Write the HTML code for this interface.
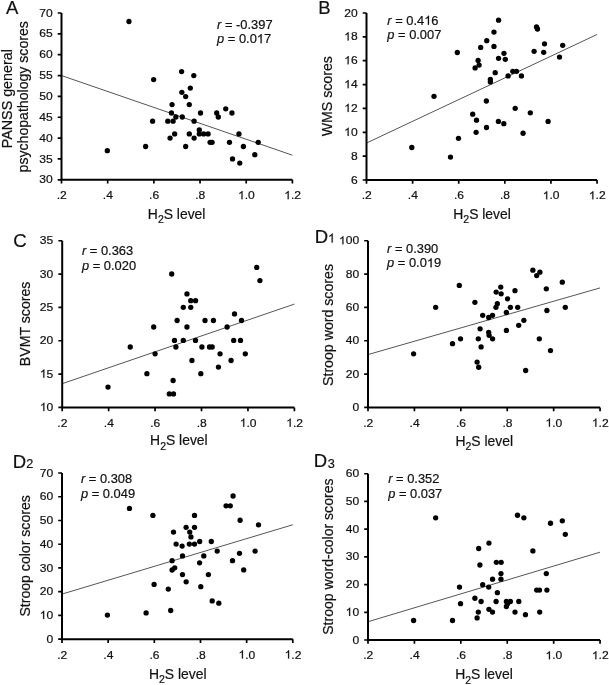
<!DOCTYPE html>
<html><head><meta charset="utf-8"><title>H2S correlations</title>
<style>
html,body{margin:0;padding:0;background:#fff;}
svg{display:block;will-change:transform;filter:blur(0.3px);}
text{font-family:"Liberation Sans", sans-serif;fill:#111;stroke:#111;stroke-width:0.2px;}
</style></head><body>
<svg width="609" height="685" viewBox="0 0 609 685">
<rect width="609" height="685" fill="#fff"/>
<g id="panel-A">
<line x1="61.5" y1="75.55" x2="292.4" y2="155.2" stroke="#2a2a2a" stroke-width="0.8"/>
<path d="M61.5 13 V179.8 H292.4" fill="none" stroke="#000" stroke-width="2.0" stroke-linejoin="miter"/>
<path d="M61.5 179.8 v3.8 M107.68 179.8 v3.8 M153.86 179.8 v3.8 M200.04 179.8 v3.8 M246.22 179.8 v3.8 M292.4 179.8 v3.8 M61.5 179.8 h-3.8 M61.5 158.95 h-3.8 M61.5 138.1 h-3.8 M61.5 117.25 h-3.8 M61.5 96.4 h-3.8 M61.5 75.55 h-3.8 M61.5 54.7 h-3.8 M61.5 33.85 h-3.8 M61.5 13 h-3.8" fill="none" stroke="#000" stroke-width="1.7"/>
<g><g transform="translate(61.7 199.15) scale(1.06 1)" font-size="11.4"><text x="-4.75" y="0" xml:space="preserve">.2</text></g><g transform="translate(107.88 199.15) scale(1.06 1)" font-size="11.4"><text x="-4.75" y="0" xml:space="preserve">.4</text></g><g transform="translate(154.06 199.15) scale(1.06 1)" font-size="11.4"><text x="-4.75" y="0" xml:space="preserve">.6</text></g><g transform="translate(200.24 199.15) scale(1.06 1)" font-size="11.4"><text x="-4.75" y="0" xml:space="preserve">.8</text></g><g transform="translate(246.42 199.15) scale(1.06 1)" font-size="11.4"><path transform="translate(-7.92 0) scale(0.00557 -0.00557)" d="M763 0H583V1147Q518 1085 412.5 1023Q307 961 223 930V1104Q374 1175 487 1276Q600 1377 647 1472H763Z" fill="#111" stroke="#111" stroke-width="0.2" vector-effect="non-scaling-stroke"/><text x="-1.58" y="0" xml:space="preserve">.0</text></g><g transform="translate(292.6 199.15) scale(1.06 1)" font-size="11.4"><path transform="translate(-7.92 0) scale(0.00557 -0.00557)" d="M763 0H583V1147Q518 1085 412.5 1023Q307 961 223 930V1104Q374 1175 487 1276Q600 1377 647 1472H763Z" fill="#111" stroke="#111" stroke-width="0.2" vector-effect="non-scaling-stroke"/><text x="-1.58" y="0" xml:space="preserve">.2</text></g></g>
<g><g transform="translate(52.6 183.4) scale(1.06 1)" font-size="11.4"><text x="-12.68" y="0" xml:space="preserve">30</text></g><g transform="translate(52.6 162.55) scale(1.06 1)" font-size="11.4"><text x="-12.68" y="0" xml:space="preserve">35</text></g><g transform="translate(52.6 141.7) scale(1.06 1)" font-size="11.4"><text x="-12.68" y="0" xml:space="preserve">40</text></g><g transform="translate(52.6 120.85) scale(1.06 1)" font-size="11.4"><text x="-12.68" y="0" xml:space="preserve">45</text></g><g transform="translate(52.6 100) scale(1.06 1)" font-size="11.4"><text x="-12.68" y="0" xml:space="preserve">50</text></g><g transform="translate(52.6 79.15) scale(1.06 1)" font-size="11.4"><text x="-12.68" y="0" xml:space="preserve">55</text></g><g transform="translate(52.6 58.3) scale(1.06 1)" font-size="11.4"><text x="-12.68" y="0" xml:space="preserve">60</text></g><g transform="translate(52.6 37.45) scale(1.06 1)" font-size="11.4"><text x="-12.68" y="0" xml:space="preserve">65</text></g><g transform="translate(52.6 16.6) scale(1.06 1)" font-size="11.4"><text x="-12.68" y="0" xml:space="preserve">70</text></g></g>
<text x="176.65" y="218.7" font-size="13.9" text-anchor="middle">H<tspan font-size="10.5" dy="4.4">2</tspan><tspan dy="-4.4">S level</tspan></text>
<text transform="translate(11.9 98.7) rotate(-90)" font-size="14.3" text-anchor="middle">PANSS general</text>
<text transform="translate(28.2 96.8) rotate(-90)" font-size="14.1" text-anchor="middle">psychopathology scores</text>
<text x="5.9" y="14.4" font-size="18.5">A</text>
<g transform="translate(217.1 28.6) scale(1.015 1)" font-size="12.7"><text x="0" y="0" font-style="italic">r</text><text x="4.23" y="0" xml:space="preserve"> = -0.397</text></g>
<g transform="translate(217.1 43.2) scale(1.015 1)" font-size="12.7"><text x="0" y="0" font-style="italic">p</text><text x="7.06" y="0" xml:space="preserve"> = 0.0</text><path transform="translate(39.19 0) scale(0.00620 -0.00620)" d="M763 0H583V1147Q518 1085 412.5 1023Q307 961 223 930V1104Q374 1175 487 1276Q600 1377 647 1472H763Z" fill="#111" stroke="#111" stroke-width="0.2" vector-effect="non-scaling-stroke"/><text x="46.25" y="0" xml:space="preserve">7</text></g>
<g fill="#000"><circle cx="185.67" cy="96.6" r="2.65"/><circle cx="172.05" cy="104.6" r="2.65"/><circle cx="189.28" cy="104.6" r="2.65"/><circle cx="225.74" cy="108.8" r="2.65"/><circle cx="171.45" cy="113" r="2.65"/><circle cx="200.5" cy="113" r="2.65"/><circle cx="216.7" cy="113" r="2.65"/><circle cx="231.95" cy="113" r="2.65"/><circle cx="175.86" cy="117" r="2.65"/><circle cx="182.27" cy="117" r="2.65"/><circle cx="218.3" cy="117" r="2.65"/><circle cx="152.6" cy="121.2" r="2.65"/><circle cx="167.8" cy="121.2" r="2.65"/><circle cx="173.05" cy="121.2" r="2.65"/><circle cx="194.1" cy="121.2" r="2.65"/><circle cx="199.3" cy="130" r="2.65"/><circle cx="174.65" cy="133.9" r="2.65"/><circle cx="189.3" cy="133.9" r="2.65"/><circle cx="199.3" cy="133.9" r="2.65"/><circle cx="203.7" cy="133.9" r="2.65"/><circle cx="208.1" cy="133.9" r="2.65"/><circle cx="238.96" cy="133.9" r="2.65"/><circle cx="170.05" cy="138.07" r="2.65"/><circle cx="194.1" cy="138.07" r="2.65"/><circle cx="210.1" cy="142.3" r="2.65"/><circle cx="212.1" cy="142.3" r="2.65"/><circle cx="229.5" cy="142.3" r="2.65"/><circle cx="258.2" cy="142.3" r="2.65"/><circle cx="145.6" cy="146.5" r="2.65"/><circle cx="185.67" cy="146.5" r="2.65"/><circle cx="243.4" cy="146.5" r="2.65"/><circle cx="254.8" cy="154.7" r="2.65"/><circle cx="232.5" cy="158.9" r="2.65"/><circle cx="239.76" cy="163.1" r="2.65"/><circle cx="128.95" cy="21.5" r="2.65"/><circle cx="153.65" cy="79.6" r="2.65"/><circle cx="181.6" cy="71.6" r="2.65"/><circle cx="193.8" cy="75.6" r="2.65"/><circle cx="190.3" cy="88.1" r="2.65"/><circle cx="181.85" cy="92.3" r="2.65"/><circle cx="107.3" cy="150.7" r="2.65"/></g>
</g>
<g id="panel-B">
<line x1="366.5" y1="143.02" x2="597.05" y2="34.47" stroke="#2a2a2a" stroke-width="0.8"/>
<path d="M366.5 13 V180 H597.05" fill="none" stroke="#000" stroke-width="2.0" stroke-linejoin="miter"/>
<path d="M366.5 180 v3.8 M412.61 180 v3.8 M458.72 180 v3.8 M504.83 180 v3.8 M550.94 180 v3.8 M597.05 180 v3.8 M366.5 180 h-3.8 M366.5 156.14 h-3.8 M366.5 132.29 h-3.8 M366.5 108.43 h-3.8 M366.5 84.57 h-3.8 M366.5 60.71 h-3.8 M366.5 36.86 h-3.8 M366.5 13 h-3.8" fill="none" stroke="#000" stroke-width="1.7"/>
<g><g transform="translate(366.7 199.35) scale(1.06 1)" font-size="11.4"><text x="-4.75" y="0" xml:space="preserve">.2</text></g><g transform="translate(412.81 199.35) scale(1.06 1)" font-size="11.4"><text x="-4.75" y="0" xml:space="preserve">.4</text></g><g transform="translate(458.92 199.35) scale(1.06 1)" font-size="11.4"><text x="-4.75" y="0" xml:space="preserve">.6</text></g><g transform="translate(505.03 199.35) scale(1.06 1)" font-size="11.4"><text x="-4.75" y="0" xml:space="preserve">.8</text></g><g transform="translate(551.14 199.35) scale(1.06 1)" font-size="11.4"><path transform="translate(-7.92 0) scale(0.00557 -0.00557)" d="M763 0H583V1147Q518 1085 412.5 1023Q307 961 223 930V1104Q374 1175 487 1276Q600 1377 647 1472H763Z" fill="#111" stroke="#111" stroke-width="0.2" vector-effect="non-scaling-stroke"/><text x="-1.58" y="0" xml:space="preserve">.0</text></g><g transform="translate(597.25 199.35) scale(1.06 1)" font-size="11.4"><path transform="translate(-7.92 0) scale(0.00557 -0.00557)" d="M763 0H583V1147Q518 1085 412.5 1023Q307 961 223 930V1104Q374 1175 487 1276Q600 1377 647 1472H763Z" fill="#111" stroke="#111" stroke-width="0.2" vector-effect="non-scaling-stroke"/><text x="-1.58" y="0" xml:space="preserve">.2</text></g></g>
<g><g transform="translate(357.6 183.6) scale(1.06 1)" font-size="11.4"><text x="-6.34" y="0" xml:space="preserve">6</text></g><g transform="translate(357.6 159.74) scale(1.06 1)" font-size="11.4"><text x="-6.34" y="0" xml:space="preserve">8</text></g><g transform="translate(357.6 135.89) scale(1.06 1)" font-size="11.4"><path transform="translate(-12.68 0) scale(0.00557 -0.00557)" d="M763 0H583V1147Q518 1085 412.5 1023Q307 961 223 930V1104Q374 1175 487 1276Q600 1377 647 1472H763Z" fill="#111" stroke="#111" stroke-width="0.2" vector-effect="non-scaling-stroke"/><text x="-6.34" y="0" xml:space="preserve">0</text></g><g transform="translate(357.6 112.03) scale(1.06 1)" font-size="11.4"><path transform="translate(-12.68 0) scale(0.00557 -0.00557)" d="M763 0H583V1147Q518 1085 412.5 1023Q307 961 223 930V1104Q374 1175 487 1276Q600 1377 647 1472H763Z" fill="#111" stroke="#111" stroke-width="0.2" vector-effect="non-scaling-stroke"/><text x="-6.34" y="0" xml:space="preserve">2</text></g><g transform="translate(357.6 88.17) scale(1.06 1)" font-size="11.4"><path transform="translate(-12.68 0) scale(0.00557 -0.00557)" d="M763 0H583V1147Q518 1085 412.5 1023Q307 961 223 930V1104Q374 1175 487 1276Q600 1377 647 1472H763Z" fill="#111" stroke="#111" stroke-width="0.2" vector-effect="non-scaling-stroke"/><text x="-6.34" y="0" xml:space="preserve">4</text></g><g transform="translate(357.6 64.31) scale(1.06 1)" font-size="11.4"><path transform="translate(-12.68 0) scale(0.00557 -0.00557)" d="M763 0H583V1147Q518 1085 412.5 1023Q307 961 223 930V1104Q374 1175 487 1276Q600 1377 647 1472H763Z" fill="#111" stroke="#111" stroke-width="0.2" vector-effect="non-scaling-stroke"/><text x="-6.34" y="0" xml:space="preserve">6</text></g><g transform="translate(357.6 40.46) scale(1.06 1)" font-size="11.4"><path transform="translate(-12.68 0) scale(0.00557 -0.00557)" d="M763 0H583V1147Q518 1085 412.5 1023Q307 961 223 930V1104Q374 1175 487 1276Q600 1377 647 1472H763Z" fill="#111" stroke="#111" stroke-width="0.2" vector-effect="non-scaling-stroke"/><text x="-6.34" y="0" xml:space="preserve">8</text></g><g transform="translate(357.6 16.6) scale(1.06 1)" font-size="11.4"><text x="-12.68" y="0" xml:space="preserve">20</text></g></g>
<text x="482.07" y="218.9" font-size="13.9" text-anchor="middle">H<tspan font-size="10.5" dy="4.4">2</tspan><tspan dy="-4.4">S level</tspan></text>
<text transform="translate(331.8 96.25) rotate(-90)" font-size="14.17" text-anchor="middle">WMS scores</text>
<text x="318.3" y="14.3" font-size="18.5">B</text>
<g transform="translate(387.3 24.8) scale(1.015 1)" font-size="12.7"><text x="0" y="0" font-style="italic">r</text><text x="4.23" y="0" xml:space="preserve"> = 0.4</text><path transform="translate(36.36 0) scale(0.00620 -0.00620)" d="M763 0H583V1147Q518 1085 412.5 1023Q307 961 223 930V1104Q374 1175 487 1276Q600 1377 647 1472H763Z" fill="#111" stroke="#111" stroke-width="0.2" vector-effect="non-scaling-stroke"/><text x="43.42" y="0" xml:space="preserve">6</text></g>
<g transform="translate(387.3 39.4) scale(1.015 1)" font-size="12.7"><text x="0" y="0" font-style="italic">p</text><text x="7.06" y="0" xml:space="preserve"> = 0.007</text></g>
<g fill="#000"><circle cx="498.57" cy="20.22" r="2.65"/><circle cx="493.96" cy="32.04" r="2.65"/><circle cx="486.75" cy="40.66" r="2.65"/><circle cx="480.7" cy="47.47" r="2.65"/><circle cx="493.96" cy="46.47" r="2.65"/><circle cx="457.3" cy="52.5" r="2.65"/><circle cx="503.97" cy="53.3" r="2.65"/><circle cx="498.57" cy="58.3" r="2.65"/><circle cx="505.3" cy="59.3" r="2.65"/><circle cx="478.1" cy="60.5" r="2.65"/><circle cx="479.1" cy="65.1" r="2.65"/><circle cx="475.1" cy="67.9" r="2.65"/><circle cx="495.2" cy="72.7" r="2.65"/><circle cx="512.8" cy="71.3" r="2.65"/><circle cx="516.5" cy="71.3" r="2.65"/><circle cx="508.1" cy="75.9" r="2.65"/><circle cx="521.45" cy="75.9" r="2.65"/><circle cx="490.35" cy="79.5" r="2.65"/><circle cx="490.35" cy="81.9" r="2.65"/><circle cx="434" cy="96.3" r="2.65"/><circle cx="536.5" cy="27" r="2.65"/><circle cx="537.5" cy="29" r="2.65"/><circle cx="544.5" cy="43.86" r="2.65"/><circle cx="562.7" cy="45.3" r="2.65"/><circle cx="534.1" cy="51.3" r="2.65"/><circle cx="543.7" cy="52.3" r="2.65"/><circle cx="559.5" cy="57.1" r="2.65"/><circle cx="486.35" cy="101" r="2.65"/><circle cx="515.2" cy="108.3" r="2.65"/><circle cx="472.7" cy="114.2" r="2.65"/><circle cx="476.5" cy="120.2" r="2.65"/><circle cx="498.4" cy="121.4" r="2.65"/><circle cx="503.8" cy="123.65" r="2.65"/><circle cx="486.5" cy="127.5" r="2.65"/><circle cx="476.1" cy="132.3" r="2.65"/><circle cx="458.5" cy="138.3" r="2.65"/><circle cx="411.8" cy="147.5" r="2.65"/><circle cx="450.5" cy="157.1" r="2.65"/><circle cx="530.3" cy="112.8" r="2.65"/><circle cx="548.1" cy="121.45" r="2.65"/><circle cx="523.06" cy="133.27" r="2.65"/></g>
</g>
<g id="panel-C">
<line x1="62.2" y1="383.67" x2="294.4" y2="304.08" stroke="#2a2a2a" stroke-width="0.8"/>
<path d="M62.2 240.75 V407.4 H294.4" fill="none" stroke="#000" stroke-width="2.0" stroke-linejoin="miter"/>
<path d="M62.2 407.4 v3.8 M108.64 407.4 v3.8 M155.08 407.4 v3.8 M201.52 407.4 v3.8 M247.96 407.4 v3.8 M294.4 407.4 v3.8 M62.2 407.4 h-3.8 M62.2 374.07 h-3.8 M62.2 340.74 h-3.8 M62.2 307.41 h-3.8 M62.2 274.08 h-3.8 M62.2 240.75 h-3.8" fill="none" stroke="#000" stroke-width="1.7"/>
<g><g transform="translate(62.4 426.75) scale(1.06 1)" font-size="11.4"><text x="-4.75" y="0" xml:space="preserve">.2</text></g><g transform="translate(108.84 426.75) scale(1.06 1)" font-size="11.4"><text x="-4.75" y="0" xml:space="preserve">.4</text></g><g transform="translate(155.28 426.75) scale(1.06 1)" font-size="11.4"><text x="-4.75" y="0" xml:space="preserve">.6</text></g><g transform="translate(201.72 426.75) scale(1.06 1)" font-size="11.4"><text x="-4.75" y="0" xml:space="preserve">.8</text></g><g transform="translate(248.16 426.75) scale(1.06 1)" font-size="11.4"><path transform="translate(-7.92 0) scale(0.00557 -0.00557)" d="M763 0H583V1147Q518 1085 412.5 1023Q307 961 223 930V1104Q374 1175 487 1276Q600 1377 647 1472H763Z" fill="#111" stroke="#111" stroke-width="0.2" vector-effect="non-scaling-stroke"/><text x="-1.58" y="0" xml:space="preserve">.0</text></g><g transform="translate(294.6 426.75) scale(1.06 1)" font-size="11.4"><path transform="translate(-7.92 0) scale(0.00557 -0.00557)" d="M763 0H583V1147Q518 1085 412.5 1023Q307 961 223 930V1104Q374 1175 487 1276Q600 1377 647 1472H763Z" fill="#111" stroke="#111" stroke-width="0.2" vector-effect="non-scaling-stroke"/><text x="-1.58" y="0" xml:space="preserve">.2</text></g></g>
<g><g transform="translate(53.3 411) scale(1.06 1)" font-size="11.4"><path transform="translate(-12.68 0) scale(0.00557 -0.00557)" d="M763 0H583V1147Q518 1085 412.5 1023Q307 961 223 930V1104Q374 1175 487 1276Q600 1377 647 1472H763Z" fill="#111" stroke="#111" stroke-width="0.2" vector-effect="non-scaling-stroke"/><text x="-6.34" y="0" xml:space="preserve">0</text></g><g transform="translate(53.3 377.67) scale(1.06 1)" font-size="11.4"><path transform="translate(-12.68 0) scale(0.00557 -0.00557)" d="M763 0H583V1147Q518 1085 412.5 1023Q307 961 223 930V1104Q374 1175 487 1276Q600 1377 647 1472H763Z" fill="#111" stroke="#111" stroke-width="0.2" vector-effect="non-scaling-stroke"/><text x="-6.34" y="0" xml:space="preserve">5</text></g><g transform="translate(53.3 344.34) scale(1.06 1)" font-size="11.4"><text x="-12.68" y="0" xml:space="preserve">20</text></g><g transform="translate(53.3 311.01) scale(1.06 1)" font-size="11.4"><text x="-12.68" y="0" xml:space="preserve">25</text></g><g transform="translate(53.3 277.68) scale(1.06 1)" font-size="11.4"><text x="-12.68" y="0" xml:space="preserve">30</text></g><g transform="translate(53.3 244.35) scale(1.06 1)" font-size="11.4"><text x="-12.68" y="0" xml:space="preserve">35</text></g></g>
<text x="178.9" y="445.45" font-size="13.9" text-anchor="middle">H<tspan font-size="10.5" dy="4.4">2</tspan><tspan dy="-4.4">S level</tspan></text>
<text transform="translate(29.75 323.9) rotate(-90)" font-size="14.16" text-anchor="middle">BVMT scores</text>
<text x="13.2" y="247" font-size="18.5">C</text>
<g transform="translate(82 255.1) scale(1.015 1)" font-size="12.7"><text x="0" y="0" font-style="italic">r</text><text x="4.23" y="0" xml:space="preserve"> = 0.363</text></g>
<g transform="translate(82 269.7) scale(1.015 1)" font-size="12.7"><text x="0" y="0" font-style="italic">p</text><text x="7.06" y="0" xml:space="preserve"> = 0.020</text></g>
<g fill="#000"><circle cx="171.7" cy="274" r="2.65"/><circle cx="186.95" cy="293.9" r="2.65"/><circle cx="190.75" cy="300.7" r="2.65"/><circle cx="195.56" cy="300.7" r="2.65"/><circle cx="183.3" cy="307.3" r="2.65"/><circle cx="190.75" cy="307.3" r="2.65"/><circle cx="177.1" cy="320.5" r="2.65"/><circle cx="205" cy="320.5" r="2.65"/><circle cx="213.4" cy="320.5" r="2.65"/><circle cx="153.7" cy="327" r="2.65"/><circle cx="186.95" cy="327" r="2.65"/><circle cx="174.5" cy="340.4" r="2.65"/><circle cx="183.3" cy="340.4" r="2.65"/><circle cx="195.5" cy="340.4" r="2.65"/><circle cx="130.26" cy="347" r="2.65"/><circle cx="175.9" cy="347" r="2.65"/><circle cx="201.9" cy="347" r="2.65"/><circle cx="209.5" cy="347" r="2.65"/><circle cx="212.2" cy="347" r="2.65"/><circle cx="155.1" cy="353.85" r="2.65"/><circle cx="191.95" cy="360.5" r="2.65"/><circle cx="218.45" cy="367.07" r="2.65"/><circle cx="146.9" cy="373.7" r="2.65"/><circle cx="200.8" cy="373.7" r="2.65"/><circle cx="173.1" cy="380.5" r="2.65"/><circle cx="108" cy="387.1" r="2.65"/><circle cx="169.3" cy="393.9" r="2.65"/><circle cx="173.5" cy="393.9" r="2.65"/><circle cx="256.7" cy="267.4" r="2.65"/><circle cx="259.9" cy="280.6" r="2.65"/><circle cx="234.5" cy="313.9" r="2.65"/><circle cx="241.5" cy="320.5" r="2.65"/><circle cx="227.1" cy="327" r="2.65"/><circle cx="233.7" cy="340.4" r="2.65"/><circle cx="240.5" cy="340.4" r="2.65"/><circle cx="220.06" cy="353.85" r="2.65"/><circle cx="245.3" cy="353.85" r="2.65"/><circle cx="231.07" cy="360.5" r="2.65"/></g>
</g>
<g id="panel-D1">
<line x1="368" y1="354.57" x2="600.07" y2="287.91" stroke="#2a2a2a" stroke-width="0.8"/>
<path d="M368 240.75 V407.4 H600.07" fill="none" stroke="#000" stroke-width="2.0" stroke-linejoin="miter"/>
<path d="M368 407.4 v3.8 M414.41 407.4 v3.8 M460.83 407.4 v3.8 M507.24 407.4 v3.8 M553.66 407.4 v3.8 M600.07 407.4 v3.8 M368 407.4 h-3.8 M368 374.07 h-3.8 M368 340.74 h-3.8 M368 307.41 h-3.8 M368 274.08 h-3.8 M368 240.75 h-3.8" fill="none" stroke="#000" stroke-width="1.7"/>
<g><g transform="translate(368.2 426.75) scale(1.06 1)" font-size="11.4"><text x="-4.75" y="0" xml:space="preserve">.2</text></g><g transform="translate(414.61 426.75) scale(1.06 1)" font-size="11.4"><text x="-4.75" y="0" xml:space="preserve">.4</text></g><g transform="translate(461.03 426.75) scale(1.06 1)" font-size="11.4"><text x="-4.75" y="0" xml:space="preserve">.6</text></g><g transform="translate(507.44 426.75) scale(1.06 1)" font-size="11.4"><text x="-4.75" y="0" xml:space="preserve">.8</text></g><g transform="translate(553.86 426.75) scale(1.06 1)" font-size="11.4"><path transform="translate(-7.92 0) scale(0.00557 -0.00557)" d="M763 0H583V1147Q518 1085 412.5 1023Q307 961 223 930V1104Q374 1175 487 1276Q600 1377 647 1472H763Z" fill="#111" stroke="#111" stroke-width="0.2" vector-effect="non-scaling-stroke"/><text x="-1.58" y="0" xml:space="preserve">.0</text></g><g transform="translate(600.27 426.75) scale(1.06 1)" font-size="11.4"><path transform="translate(-7.92 0) scale(0.00557 -0.00557)" d="M763 0H583V1147Q518 1085 412.5 1023Q307 961 223 930V1104Q374 1175 487 1276Q600 1377 647 1472H763Z" fill="#111" stroke="#111" stroke-width="0.2" vector-effect="non-scaling-stroke"/><text x="-1.58" y="0" xml:space="preserve">.2</text></g></g>
<g><g transform="translate(359.1 411) scale(1.06 1)" font-size="11.4"><text x="-6.34" y="0" xml:space="preserve">0</text></g><g transform="translate(359.1 377.67) scale(1.06 1)" font-size="11.4"><text x="-12.68" y="0" xml:space="preserve">20</text></g><g transform="translate(359.1 344.34) scale(1.06 1)" font-size="11.4"><text x="-12.68" y="0" xml:space="preserve">40</text></g><g transform="translate(359.1 311.01) scale(1.06 1)" font-size="11.4"><text x="-12.68" y="0" xml:space="preserve">60</text></g><g transform="translate(359.1 277.68) scale(1.06 1)" font-size="11.4"><text x="-12.68" y="0" xml:space="preserve">80</text></g><g transform="translate(359.1 244.35) scale(1.06 1)" font-size="11.4"><path transform="translate(-19.02 0) scale(0.00557 -0.00557)" d="M763 0H583V1147Q518 1085 412.5 1023Q307 961 223 930V1104Q374 1175 487 1276Q600 1377 647 1472H763Z" fill="#111" stroke="#111" stroke-width="0.2" vector-effect="non-scaling-stroke"/><text x="-12.68" y="0" xml:space="preserve">00</text></g></g>
<text x="484.24" y="445.7" font-size="13.9" text-anchor="middle">H<tspan font-size="10.5" dy="4.4">2</tspan><tspan dy="-4.4">S level</tspan></text>
<text transform="translate(332.7 325) rotate(-90)" font-size="14.16" text-anchor="middle">Stroop word scores</text>
<text x="314.8" y="242.6" font-size="18.5">D</text>
<g transform="translate(328 242.6)" font-size="12.7"><path transform="translate(0 0) scale(0.00620 -0.00620)" d="M763 0H583V1147Q518 1085 412.5 1023Q307 961 223 930V1104Q374 1175 487 1276Q600 1377 647 1472H763Z" fill="#111" stroke="#111" stroke-width="0.2" vector-effect="non-scaling-stroke"/></g>
<g transform="translate(387.1 252.7) scale(1.015 1)" font-size="12.7"><text x="0" y="0" font-style="italic">r</text><text x="4.23" y="0" xml:space="preserve"> = 0.390</text></g>
<g transform="translate(387.1 267.3) scale(1.015 1)" font-size="12.7"><text x="0" y="0" font-style="italic">p</text><text x="7.06" y="0" xml:space="preserve"> = 0.0</text><path transform="translate(39.19 0) scale(0.00620 -0.00620)" d="M763 0H583V1147Q518 1085 412.5 1023Q307 961 223 930V1104Q374 1175 487 1276Q600 1377 647 1472H763Z" fill="#111" stroke="#111" stroke-width="0.2" vector-effect="non-scaling-stroke"/><text x="46.25" y="0" xml:space="preserve">9</text></g>
<g fill="#000"><circle cx="459.3" cy="285.45" r="2.65"/><circle cx="500.76" cy="287.05" r="2.65"/><circle cx="496.15" cy="292.06" r="2.65"/><circle cx="501.16" cy="293.86" r="2.65"/><circle cx="514.98" cy="290.66" r="2.65"/><circle cx="507.57" cy="298.87" r="2.65"/><circle cx="474.9" cy="302.3" r="2.65"/><circle cx="497.36" cy="303.7" r="2.65"/><circle cx="495.95" cy="307.3" r="2.65"/><circle cx="435.66" cy="307.3" r="2.65"/><circle cx="510.4" cy="307.3" r="2.65"/><circle cx="517.7" cy="307.3" r="2.65"/><circle cx="506.37" cy="312.5" r="2.65"/><circle cx="482.7" cy="315.3" r="2.65"/><circle cx="492.5" cy="315.3" r="2.65"/><circle cx="488.7" cy="317.5" r="2.65"/><circle cx="523.86" cy="320.3" r="2.65"/><circle cx="518.7" cy="325.3" r="2.65"/><circle cx="480.1" cy="328.85" r="2.65"/><circle cx="506.4" cy="330.45" r="2.65"/><circle cx="488.7" cy="332.3" r="2.65"/><circle cx="489.1" cy="335.35" r="2.65"/><circle cx="478.3" cy="338.85" r="2.65"/><circle cx="492.55" cy="338.85" r="2.65"/><circle cx="460.5" cy="338.85" r="2.65"/><circle cx="452.5" cy="343.65" r="2.65"/><circle cx="481.1" cy="346.95" r="2.65"/><circle cx="413.6" cy="353.85" r="2.65"/><circle cx="477.1" cy="362.06" r="2.65"/><circle cx="478.7" cy="367.27" r="2.65"/><circle cx="532.87" cy="270.2" r="2.65"/><circle cx="539.9" cy="272.2" r="2.65"/><circle cx="536.7" cy="275.6" r="2.65"/><circle cx="562.3" cy="282.2" r="2.65"/><circle cx="546.3" cy="288.85" r="2.65"/><circle cx="565.3" cy="307.3" r="2.65"/><circle cx="546.9" cy="310.5" r="2.65"/><circle cx="539.3" cy="338.85" r="2.65"/><circle cx="550.5" cy="350.6" r="2.65"/><circle cx="525.66" cy="370.5" r="2.65"/></g>
</g>
<g id="panel-D2">
<line x1="62" y1="594.09" x2="292.8" y2="524.76" stroke="#2a2a2a" stroke-width="0.8"/>
<path d="M62 473 V639.2 H292.8" fill="none" stroke="#000" stroke-width="2.0" stroke-linejoin="miter"/>
<path d="M62 639.2 v3.8 M108.16 639.2 v3.8 M154.32 639.2 v3.8 M200.48 639.2 v3.8 M246.64 639.2 v3.8 M292.8 639.2 v3.8 M62 639.2 h-3.8 M62 615.46 h-3.8 M62 591.71 h-3.8 M62 567.97 h-3.8 M62 544.23 h-3.8 M62 520.49 h-3.8 M62 496.74 h-3.8 M62 473 h-3.8" fill="none" stroke="#000" stroke-width="1.7"/>
<g><g transform="translate(62.2 658.55) scale(1.06 1)" font-size="11.4"><text x="-4.75" y="0" xml:space="preserve">.2</text></g><g transform="translate(108.36 658.55) scale(1.06 1)" font-size="11.4"><text x="-4.75" y="0" xml:space="preserve">.4</text></g><g transform="translate(154.52 658.55) scale(1.06 1)" font-size="11.4"><text x="-4.75" y="0" xml:space="preserve">.6</text></g><g transform="translate(200.68 658.55) scale(1.06 1)" font-size="11.4"><text x="-4.75" y="0" xml:space="preserve">.8</text></g><g transform="translate(246.84 658.55) scale(1.06 1)" font-size="11.4"><path transform="translate(-7.92 0) scale(0.00557 -0.00557)" d="M763 0H583V1147Q518 1085 412.5 1023Q307 961 223 930V1104Q374 1175 487 1276Q600 1377 647 1472H763Z" fill="#111" stroke="#111" stroke-width="0.2" vector-effect="non-scaling-stroke"/><text x="-1.58" y="0" xml:space="preserve">.0</text></g><g transform="translate(293 658.55) scale(1.06 1)" font-size="11.4"><path transform="translate(-7.92 0) scale(0.00557 -0.00557)" d="M763 0H583V1147Q518 1085 412.5 1023Q307 961 223 930V1104Q374 1175 487 1276Q600 1377 647 1472H763Z" fill="#111" stroke="#111" stroke-width="0.2" vector-effect="non-scaling-stroke"/><text x="-1.58" y="0" xml:space="preserve">.2</text></g></g>
<g><g transform="translate(53.1 642.8) scale(1.06 1)" font-size="11.4"><text x="-6.34" y="0" xml:space="preserve">0</text></g><g transform="translate(53.1 619.06) scale(1.06 1)" font-size="11.4"><path transform="translate(-12.68 0) scale(0.00557 -0.00557)" d="M763 0H583V1147Q518 1085 412.5 1023Q307 961 223 930V1104Q374 1175 487 1276Q600 1377 647 1472H763Z" fill="#111" stroke="#111" stroke-width="0.2" vector-effect="non-scaling-stroke"/><text x="-6.34" y="0" xml:space="preserve">0</text></g><g transform="translate(53.1 595.31) scale(1.06 1)" font-size="11.4"><text x="-12.68" y="0" xml:space="preserve">20</text></g><g transform="translate(53.1 571.57) scale(1.06 1)" font-size="11.4"><text x="-12.68" y="0" xml:space="preserve">30</text></g><g transform="translate(53.1 547.83) scale(1.06 1)" font-size="11.4"><text x="-12.68" y="0" xml:space="preserve">40</text></g><g transform="translate(53.1 524.09) scale(1.06 1)" font-size="11.4"><text x="-12.68" y="0" xml:space="preserve">50</text></g><g transform="translate(53.1 500.34) scale(1.06 1)" font-size="11.4"><text x="-12.68" y="0" xml:space="preserve">60</text></g><g transform="translate(53.1 476.6) scale(1.06 1)" font-size="11.4"><text x="-12.68" y="0" xml:space="preserve">70</text></g></g>
<text x="177.7" y="678.8" font-size="13.9" text-anchor="middle">H<tspan font-size="10.5" dy="4.4">2</tspan><tspan dy="-4.4">S level</tspan></text>
<text transform="translate(29.65 555.9) rotate(-90)" font-size="14.1" text-anchor="middle">Stroop color scores</text>
<text x="12.7" y="468.1" font-size="18.5">D</text>
<text x="26.2" y="468.1" font-size="12.7">2</text>
<g transform="translate(81 482.9) scale(1.015 1)" font-size="12.7"><text x="0" y="0" font-style="italic">r</text><text x="4.23" y="0" xml:space="preserve"> = 0.308</text></g>
<g transform="translate(81 497.5) scale(1.015 1)" font-size="12.7"><text x="0" y="0" font-style="italic">p</text><text x="7.06" y="0" xml:space="preserve"> = 0.049</text></g>
<g fill="#000"><circle cx="129.46" cy="508.45" r="2.65"/><circle cx="152.9" cy="515.46" r="2.65"/><circle cx="194.5" cy="515.46" r="2.65"/><circle cx="186.1" cy="527.3" r="2.65"/><circle cx="194.5" cy="527.3" r="2.65"/><circle cx="173.5" cy="532.1" r="2.65"/><circle cx="189.75" cy="532.1" r="2.65"/><circle cx="190.95" cy="536.9" r="2.65"/><circle cx="199.7" cy="541.5" r="2.65"/><circle cx="211.3" cy="541.5" r="2.65"/><circle cx="176.1" cy="544.1" r="2.65"/><circle cx="189.35" cy="544.1" r="2.65"/><circle cx="194.5" cy="544.1" r="2.65"/><circle cx="182.1" cy="546.1" r="2.65"/><circle cx="217.2" cy="551.1" r="2.65"/><circle cx="182.5" cy="555.9" r="2.65"/><circle cx="203.8" cy="555.9" r="2.65"/><circle cx="172.1" cy="560.7" r="2.65"/><circle cx="199.6" cy="562.8" r="2.65"/><circle cx="174.7" cy="567.8" r="2.65"/><circle cx="172.1" cy="570" r="2.65"/><circle cx="182.5" cy="574.6" r="2.65"/><circle cx="208.4" cy="574.6" r="2.65"/><circle cx="186.15" cy="581.8" r="2.65"/><circle cx="154.1" cy="584.45" r="2.65"/><circle cx="200.8" cy="586.65" r="2.65"/><circle cx="168.3" cy="589.05" r="2.65"/><circle cx="212.2" cy="600.9" r="2.65"/><circle cx="218.8" cy="603.2" r="2.65"/><circle cx="146.1" cy="612.9" r="2.65"/><circle cx="170.7" cy="610.5" r="2.65"/><circle cx="107.4" cy="615.1" r="2.65"/><circle cx="233.08" cy="496" r="2.65"/><circle cx="226.07" cy="505.84" r="2.65"/><circle cx="230.27" cy="505.84" r="2.65"/><circle cx="240.1" cy="520.26" r="2.65"/><circle cx="258.5" cy="524.87" r="2.65"/><circle cx="239.5" cy="553.3" r="2.65"/><circle cx="255.1" cy="551.1" r="2.65"/><circle cx="232.5" cy="560.7" r="2.65"/><circle cx="243.7" cy="569.9" r="2.65"/></g>
</g>
<g id="panel-D3">
<line x1="368" y1="621.71" x2="600.07" y2="552.16" stroke="#2a2a2a" stroke-width="0.8"/>
<path d="M368 473.75 V640 H600.07" fill="none" stroke="#000" stroke-width="2.0" stroke-linejoin="miter"/>
<path d="M368 640 v3.8 M414.41 640 v3.8 M460.83 640 v3.8 M507.24 640 v3.8 M553.66 640 v3.8 M600.07 640 v3.8 M368 640 h-3.8 M368 612.29 h-3.8 M368 584.58 h-3.8 M368 556.88 h-3.8 M368 529.17 h-3.8 M368 501.46 h-3.8 M368 473.75 h-3.8" fill="none" stroke="#000" stroke-width="1.7"/>
<g><g transform="translate(368.2 659.35) scale(1.06 1)" font-size="11.4"><text x="-4.75" y="0" xml:space="preserve">.2</text></g><g transform="translate(414.61 659.35) scale(1.06 1)" font-size="11.4"><text x="-4.75" y="0" xml:space="preserve">.4</text></g><g transform="translate(461.03 659.35) scale(1.06 1)" font-size="11.4"><text x="-4.75" y="0" xml:space="preserve">.6</text></g><g transform="translate(507.44 659.35) scale(1.06 1)" font-size="11.4"><text x="-4.75" y="0" xml:space="preserve">.8</text></g><g transform="translate(553.86 659.35) scale(1.06 1)" font-size="11.4"><path transform="translate(-7.92 0) scale(0.00557 -0.00557)" d="M763 0H583V1147Q518 1085 412.5 1023Q307 961 223 930V1104Q374 1175 487 1276Q600 1377 647 1472H763Z" fill="#111" stroke="#111" stroke-width="0.2" vector-effect="non-scaling-stroke"/><text x="-1.58" y="0" xml:space="preserve">.0</text></g><g transform="translate(600.27 659.35) scale(1.06 1)" font-size="11.4"><path transform="translate(-7.92 0) scale(0.00557 -0.00557)" d="M763 0H583V1147Q518 1085 412.5 1023Q307 961 223 930V1104Q374 1175 487 1276Q600 1377 647 1472H763Z" fill="#111" stroke="#111" stroke-width="0.2" vector-effect="non-scaling-stroke"/><text x="-1.58" y="0" xml:space="preserve">.2</text></g></g>
<g><g transform="translate(359.1 643.6) scale(1.06 1)" font-size="11.4"><text x="-6.34" y="0" xml:space="preserve">0</text></g><g transform="translate(359.1 615.89) scale(1.06 1)" font-size="11.4"><path transform="translate(-12.68 0) scale(0.00557 -0.00557)" d="M763 0H583V1147Q518 1085 412.5 1023Q307 961 223 930V1104Q374 1175 487 1276Q600 1377 647 1472H763Z" fill="#111" stroke="#111" stroke-width="0.2" vector-effect="non-scaling-stroke"/><text x="-6.34" y="0" xml:space="preserve">0</text></g><g transform="translate(359.1 588.18) scale(1.06 1)" font-size="11.4"><text x="-12.68" y="0" xml:space="preserve">20</text></g><g transform="translate(359.1 560.48) scale(1.06 1)" font-size="11.4"><text x="-12.68" y="0" xml:space="preserve">30</text></g><g transform="translate(359.1 532.77) scale(1.06 1)" font-size="11.4"><text x="-12.68" y="0" xml:space="preserve">40</text></g><g transform="translate(359.1 505.06) scale(1.06 1)" font-size="11.4"><text x="-12.68" y="0" xml:space="preserve">50</text></g><g transform="translate(359.1 477.35) scale(1.06 1)" font-size="11.4"><text x="-12.68" y="0" xml:space="preserve">60</text></g></g>
<text x="483.94" y="679.2" font-size="13.9" text-anchor="middle">H<tspan font-size="10.5" dy="4.4">2</tspan><tspan dy="-4.4">S level</tspan></text>
<text transform="translate(332.8 556.65) rotate(-90)" font-size="14.07" text-anchor="middle">Stroop word-color scores</text>
<text x="313.75" y="467" font-size="18.5">D</text>
<text x="327.8" y="467.5" font-size="12.7">3</text>
<g transform="translate(388.2 483.2) scale(1.015 1)" font-size="12.7"><text x="0" y="0" font-style="italic">r</text><text x="4.23" y="0" xml:space="preserve"> = 0.352</text></g>
<g transform="translate(388.2 497.8) scale(1.015 1)" font-size="12.7"><text x="0" y="0" font-style="italic">p</text><text x="7.06" y="0" xml:space="preserve"> = 0.037</text></g>
<g fill="#000"><circle cx="435.66" cy="517.86" r="2.65"/><circle cx="517.5" cy="515.26" r="2.65"/><circle cx="523.86" cy="517.86" r="2.65"/><circle cx="488.94" cy="543.1" r="2.65"/><circle cx="478.7" cy="548.5" r="2.65"/><circle cx="479.9" cy="565" r="2.65"/><circle cx="496.35" cy="562.35" r="2.65"/><circle cx="501.16" cy="562.35" r="2.65"/><circle cx="500.96" cy="573.6" r="2.65"/><circle cx="500.96" cy="579.2" r="2.65"/><circle cx="492.55" cy="579.2" r="2.65"/><circle cx="482.7" cy="584.65" r="2.65"/><circle cx="488.7" cy="587.05" r="2.65"/><circle cx="459.5" cy="587.05" r="2.65"/><circle cx="497.36" cy="592.66" r="2.65"/><circle cx="474.9" cy="598.27" r="2.65"/><circle cx="481.1" cy="601.5" r="2.65"/><circle cx="496.1" cy="601.5" r="2.65"/><circle cx="506.4" cy="601.5" r="2.65"/><circle cx="510.4" cy="601.5" r="2.65"/><circle cx="518.8" cy="601.5" r="2.65"/><circle cx="460.5" cy="603.7" r="2.65"/><circle cx="506.4" cy="606.5" r="2.65"/><circle cx="488.94" cy="609.3" r="2.65"/><circle cx="492.5" cy="612.1" r="2.65"/><circle cx="478.3" cy="612.1" r="2.65"/><circle cx="515" cy="612.1" r="2.65"/><circle cx="477.1" cy="617.9" r="2.65"/><circle cx="413.6" cy="620.5" r="2.65"/><circle cx="452.5" cy="620.5" r="2.65"/><circle cx="550.5" cy="523.27" r="2.65"/><circle cx="562.3" cy="520.87" r="2.65"/><circle cx="565.3" cy="534.3" r="2.65"/><circle cx="532.87" cy="550.9" r="2.65"/><circle cx="546.3" cy="573.6" r="2.65"/><circle cx="536.7" cy="590.06" r="2.65"/><circle cx="539.5" cy="590.06" r="2.65"/><circle cx="546.9" cy="590.06" r="2.65"/><circle cx="539.7" cy="612.1" r="2.65"/><circle cx="525.46" cy="614.7" r="2.65"/><circle cx="507.5" cy="604" r="2.65"/></g>
</g>
</svg>
</body></html>
